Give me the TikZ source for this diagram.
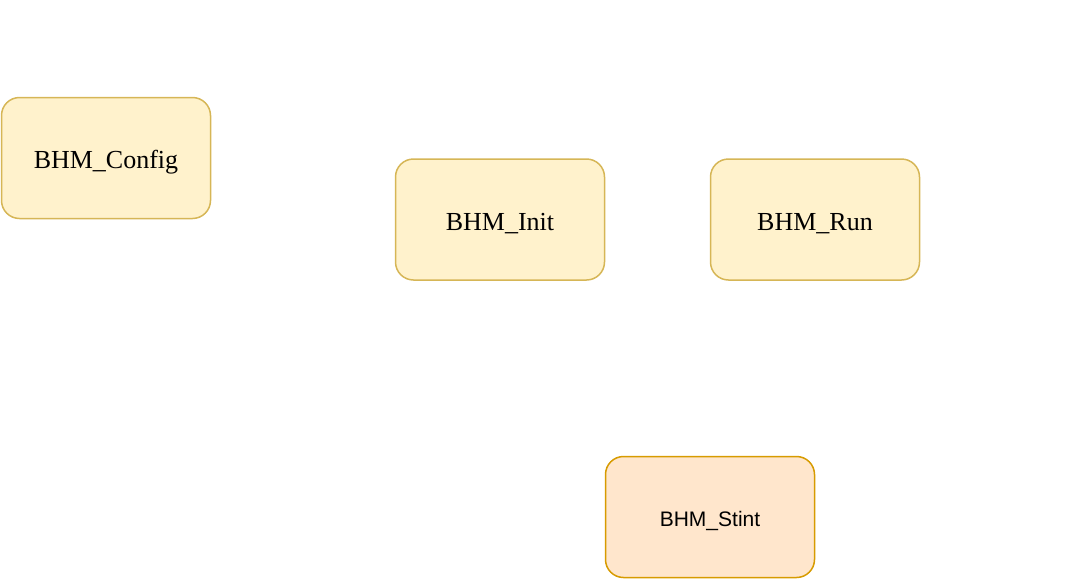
\documentclass[tikz,border=0pt]{standalone}
\usepackage{fontspec}
\setmainfont{Liberation Serif}
\setsansfont{Liberation Sans}
\usetikzlibrary{positioning}

\definecolor{boxfill}{HTML}{FFF2CC}
\definecolor{boxdraw}{HTML}{D6B656}
\definecolor{stintfill}{HTML}{FFE6CC}
\definecolor{stintdraw}{HTML}{D79B00}

\begin{document}
\begin{tikzpicture}[
    x=1pt,
    y=-1pt,
    module node/.style={rectangle,rounded corners=18pt,fill=boxfill,draw=boxdraw,line width=1.5pt,minimum width=209pt,minimum height=121pt,inner sep=0pt,text height=21.4pt,text depth=0pt,font=\fontsize{26}{30}\selectfont},
    stint node/.style={rectangle,rounded corners=18pt,fill=stintfill,draw=stintdraw,line width=1.5pt,minimum width=209pt,minimum height=121pt,inner sep=0pt,text height=18pt,text depth=0pt,font=\sffamily\fontsize{21}{25}\selectfont}
]
\useasboundingbox (0,0) rectangle (1089,581);

% Modules
\node[module node] (config) at (106,158) {BHM\_Config};
\node[module node] (init) at (500,219.5) {BHM\_Init};
\node[module node] (run) at (815,219.5) {BHM\_Run};

% Stint
\node[stint node] (stint) at (710,517) {BHM\_Stint};

\end{tikzpicture}
\end{document}
